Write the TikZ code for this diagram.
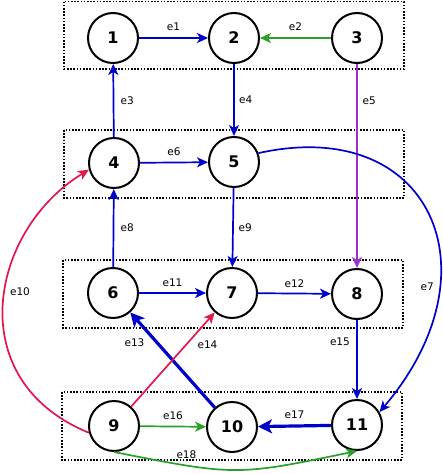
\documentclass[tikz,border=0pt]{standalone}
\usepackage{fontspec}
\setmainfont{DejaVu Sans}
\usepackage{xcolor}
\usepackage{tikz}
\usetikzlibrary{arrows.meta}
\definecolor{edgeblue}{HTML}{0000CC}
\definecolor{edgegreen}{HTML}{2AA02A}
\definecolor{edgepurple}{HTML}{9933CC}
\definecolor{edgered}{HTML}{E3154D}

\begin{document}
\begin{tikzpicture}[x=1pt,y=-1pt,
 font=\fontsize{10.5}{12}\selectfont,
 every node/.append style={text=black},
 vertex/.style={circle,draw=black,line width=2pt,fill=white,minimum size=50pt,inner sep=0pt,font=\fontsize{16}{18}\selectfont\bfseries},
 layer/.style={draw=black,line width=1.6pt,dash pattern=on 1.6pt off 1.6pt},
 arr/.style={-{Stealth[length=11pt,width=10pt,inset=3pt]},line width=1.7pt},
 heavy/.style={-{Stealth[length=14pt,width=14pt,inset=3.5pt]},line width=3.2pt}
]
\useasboundingbox (0,0) rectangle (443,474);

% layers
\draw[layer] (64,1.5) rectangle (404,69);
\draw[layer] (64,130) rectangle (404,198);
\draw[layer] (63,260) rectangle (403,328);
\draw[layer] (62,392) rectangle (402,460);

\node[vertex] (n1) at (113,38) {1};
\node[vertex] (n2) at (234,38) {2};
\node[vertex] (n3) at (357,38) {3};
\node[vertex] (n4) at (114,163) {4};
\node[vertex] (n5) at (234,162) {5};
\node[vertex] (n6) at (113,293) {6};
\node[vertex] (n7) at (232,293) {7};
\node[vertex] (n8) at (357,294) {8};
\node[vertex] (n9) at (114,426) {9};
\node[vertex] (n10) at (232,427) {10};
\node[vertex] (n11) at (357,425) {11};

\draw[arr,edgeblue] (n1) -- node[above=3pt]{e1} (n2);
\draw[arr,edgegreen] (n3) -- node[above=3pt]{e2} (n2);
\draw[arr,edgeblue] (n4) -- node[right=3pt]{e3} (n1);
\draw[arr,edgeblue] (n2) -- node[right=1pt]{e4} (n5);
\draw[arr,edgepurple] (n3) -- node[pos=0.18,right=1.5pt]{e5} (n8);
\draw[arr,edgeblue] (n4) -- node[above=3pt]{e6} (n5);
\draw[arr,edgeblue] (n5.20) .. controls (430,115) and (500,270) .. node[pos=0.7,left=1pt]{e7} (n11.30);
\draw[arr,edgeblue] (n6) -- node[right=3pt]{e8} (n4);
\draw[arr,edgeblue] (n5) -- node[right=1.5pt]{e9} (n7);
\draw[arr,edgered] (n9.195) .. controls (-40,380) and (-10,230) .. node[pos=0.54,right=1pt]{e10} (n4.195);
\draw[arr,edgeblue] (n6) -- node[above=2pt]{e11} (n7);
\draw[arr,edgeblue] (n7) -- node[above=2pt]{e12} (n8);
\draw[heavy,edgeblue] (n10) -- node[pos=0.68,left=8pt]{e13} (n6);
\draw[arr,edgered] (n9) -- node[pos=0.66,right=7pt]{e14} (n7);
\draw[arr,edgeblue] (n8) -- node[pos=0.27,left=3pt]{e15} (n11);
\draw[arr,edgegreen] (n9) -- node[above=3pt]{e16} (n10);
\draw[heavy,edgeblue] (n11) -- node[above=2pt]{e17} (n10);
\draw[arr,edgegreen] (n9.south) .. controls (236,476) .. node[pos=0.25,above=3pt]{e18} (n11.south);
\end{tikzpicture}
\end{document}
